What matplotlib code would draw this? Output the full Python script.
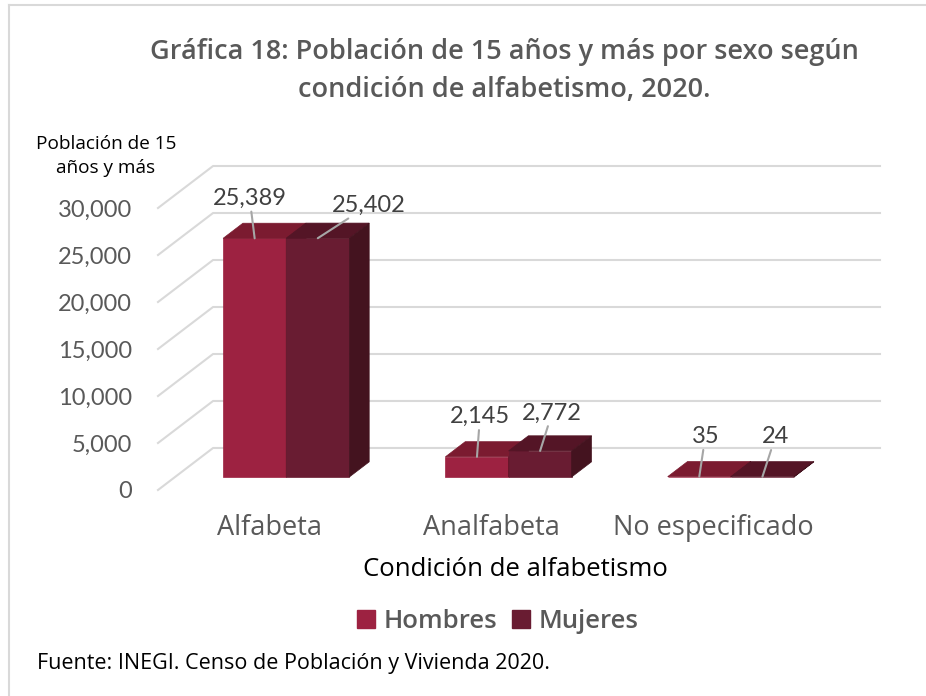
import matplotlib
matplotlib.use('Agg')
import matplotlib.pyplot as plt
from matplotlib.patches import Polygon, Patch
from matplotlib.lines import Line2D

# Datos
categorias = ['Alfabeta', 'Analfabeta', 'No especificado']
hombres = [25389, 2145, 35]
mujeres = [25402, 2772, 24]
yticks = [0, 5000, 10000, 15000, 20000, 25000, 30000]

# Colores (frente, arriba, lado)
col_h = ('#9D2241', '#7B1B30', '#5E1526')
col_m = ('#691C32', '#541526', '#44131F')

plt.rcParams['font.family'] = ['Open Sans', 'DejaVu Sans']
num_font = ['Lato', 'DejaVu Sans']

W, H = 926, 696
fig = plt.figure(figsize=(W / 100, H / 100), dpi=100)
ax = fig.add_axes([158 / W, 1 - 490 / H, 722 / W, 324 / H])

# efecto 3D: desplazamiento de profundidad en unidades de datos
DX = 0.2477
DY = 4470
z0, z1 = 0.31, 0.67
ancho = 0.284

ax.set_xlim(-0.5, 2.5 + DX)
ax.set_ylim(0, 30000 + DY)

# cuadricula en pared trasera y piso
for v in yticks:
    ax.plot([-0.5, -0.5 + DX, 2.5 + DX], [v, v + DY, v + DY],
            color='#d9d9d9', lw=1.5, zorder=0, clip_on=False)


def barra_3d(x_izq, valor, colores, z):
    base = z0 * DY
    ddx = (z1 - z0) * DX
    ddy = (z1 - z0) * DY
    ax.bar(x_izq, valor, width=ancho, bottom=base, align='edge',
           color=colores[0], edgecolor=colores[0], lw=0.5, zorder=z)
    arriba = [(x_izq, base + valor), (x_izq + ancho, base + valor),
              (x_izq + ancho + ddx, base + valor + ddy), (x_izq + ddx, base + valor + ddy)]
    lado = [(x_izq + ancho, base), (x_izq + ancho, base + valor),
            (x_izq + ancho + ddx, base + valor + ddy), (x_izq + ancho + ddx, base + ddy)]
    ax.add_patch(Polygon(arriba, closed=True, fc=colores[1], ec=colores[1], lw=0.5, zorder=z))
    ax.add_patch(Polygon(lado, closed=True, fc=colores[2], ec=colores[2], lw=0.5, zorder=z))
    return (x_izq + ancho / 2, base + valor)


# desplazamiento de etiquetas (pixeles)
off_h = [(-5, 40), (3, 40), (6, 40)]
off_m = [(51, 33), (12, 38), (13, 40)]

for i, cat in enumerate(categorias):
    centro = i + z0 * DX
    pos_h = barra_3d(centro - ancho, hombres[i], col_h, 2)
    pos_m = barra_3d(centro, mujeres[i], col_m, 3)
    for pos, val, off in [(pos_h, hombres[i], off_h[i]), (pos_m, mujeres[i], off_m[i])]:
        ax.annotate(f'{val:,}', xy=pos, xytext=(off[0] * 0.72, off[1] * 0.72),
                    textcoords='offset points', ha='center', va='center',
                    fontsize=17, color='#404040', zorder=5, family=num_font,
                    arrowprops=dict(arrowstyle='-', color='#a6a6a6', lw=1.5,
                                    shrinkA=0, shrinkB=0))

ax.set_yticks(yticks)
ax.set_yticklabels([f'{v:,}' for v in yticks], fontsize=17, color='#595959', family=num_font)
ax.set_xticks(range(len(categorias)))
ax.set_xticklabels(categorias, fontsize=19.5, color='#595959')
ax.tick_params(axis='y', length=0, pad=18.7)
ax.tick_params(axis='x', length=0, pad=17.5)
for s in ax.spines.values():
    s.set_visible(False)
ax.patch.set_visible(False)

fig.text(504 / W, 1 - 71 / H,
         'Gráfica 18: Población de 15 años y más por sexo según\ncondición de alfabetismo, 2020.',
         ha='center', va='center', fontsize=19.5, fontweight='semibold',
         color='#595959', linespacing=1.5)
fig.text(106 / W, 1 - 156 / H, 'Población de 15\naños y más', ha='center', va='center',
         fontsize=13.7, color='black', linespacing=1.45)
fig.text(515 / W, 1 - 570 / H, 'Condición de alfabetismo', ha='center', va='center',
         fontsize=18.5, color='black')
fig.text(37 / W, 1 - 663 / H, 'Fuente: INEGI. Censo de Población y Vivienda 2020.',
         ha='left', va='center', fontsize=15.5, color='black')

fig.legend(handles=[Patch(color=col_h[0], label='Hombres'),
                    Patch(color=col_m[0], label='Mujeres')],
           loc='center', bbox_to_anchor=(498 / W, 1 - 621 / H), ncol=2, frameon=False,
           prop={'size': 18.5, 'weight': 'semibold'}, labelcolor='#595959',
           handlelength=0.7, handleheight=0.7, handletextpad=0.35, columnspacing=0.55)

# marco
fig.add_artist(Line2D([9 / W, 9 / W], [0, 1 - 5 / H], color='#d9d9d9', lw=1.5))
fig.add_artist(Line2D([9 / W, 1], [1 - 5 / H, 1 - 5 / H], color='#d9d9d9', lw=1.5))

fig.savefig('out.png', dpi=100)
